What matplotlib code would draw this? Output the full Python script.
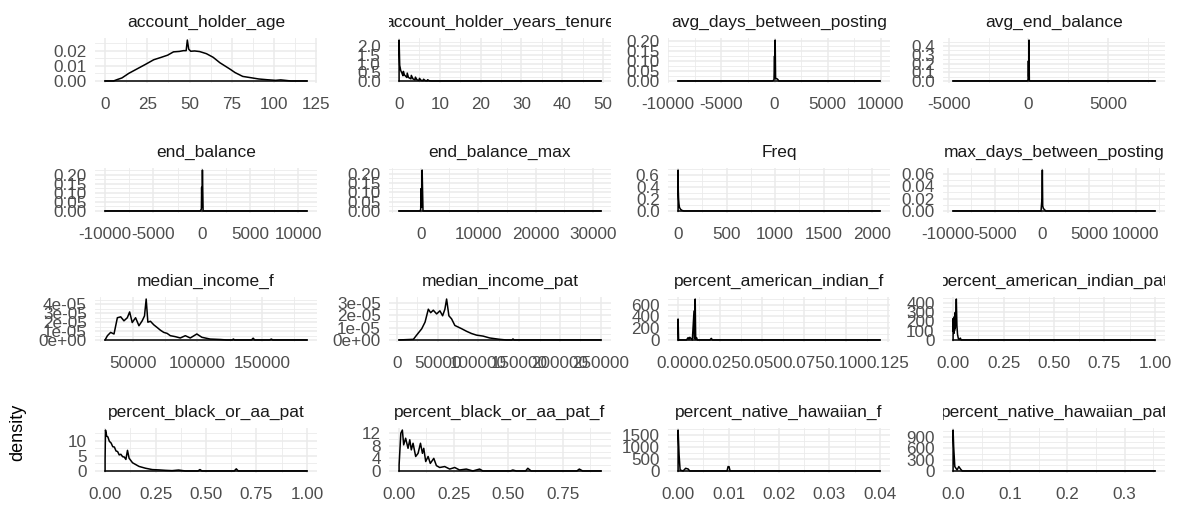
import numpy as np
import matplotlib
matplotlib.use("Agg")
import matplotlib.pyplot as plt
from matplotlib.transforms import Bbox, TransformedBbox

plt.rcParams['font.family'] = ['Liberation Sans', 'DejaVu Sans']

# --- data (density curves, one pair of lists per facet) ---
age_x = [0, 5, 7.4, 10, 14, 19, 24, 28.8, 33, 37, 40.5, 44, 46.4, 48, 48.7, 49.5, 50.7, 53, 56,
         60, 64, 68, 73.7, 77, 81.5, 86, 91, 96, 101, 104, 110, 119.5]
age_y = [0, 0, 0.001, 0.002, 0.005, 0.008, 0.011, 0.014, 0.0155, 0.017, 0.0192, 0.0195, 0.020,
         0.020, 0.027, 0.021, 0.0196, 0.0198, 0.0194, 0.0180, 0.0156, 0.012, 0.008, 0.0055, 0.003,
         0.0022, 0.0013, 0.0008, 0.0004, 0.0007, 0, 0]

tenure_x = [0, 0, 0.15, 0.4, 0.7, 0.95, 1.05, 1.3, 1.9, 2.0, 2.3, 2.9, 3.0, 3.4, 3.9, 4.0, 4.4,
            4.9, 5.0, 5.4, 5.9, 6.0, 6.4, 6.9, 7.0, 7.4, 8.0, 49.5]
tenure_y = [0, 2.35, 0.9, 0.6, 0.45, 0.3, 0.55, 0.35, 0.2, 0.45, 0.2, 0.12, 0.32, 0.12, 0.06,
            0.22, 0.06, 0.03, 0.15, 0.03, 0.02, 0.1, 0.02, 0.01, 0.07, 0.01, 0, 0]

avgdays_x = [-9060, -200, -50, 0, 30, 60, 100, 200, 300, 400, 9900]
avgdays_y = [0, 0, 0.005, 0.125, 0.02, 0.205, 0.01, 0.012, 0.008, 0, 0]

avgbal_x = [-4730, -100, -20, 0, 20, 40, 60, 100, 7950]
avgbal_y = [0, 0, 0.01, 0.23, 0.05, 0.47, 0.01, 0, 0]

endbal_x = [-10000, -150, -30, 0, 30, 80, 150, 10900]
endbal_y = [0, 0, 0.01, 0.13, 0.02, 0.225, 0, 0]

endbalmax_x = [-3760, -100, 0, 50, 150, 250, 400, 31350]
endbalmax_y = [0, 0, 0.01, 0.12, 0.02, 0.22, 0, 0]

freq_x = [1, 1, 3, 6, 10, 15, 25, 40, 60, 2080]
freq_y = [0, 0.68, 0.35, 0.2, 0.12, 0.06, 0.03, 0.01, 0, 0]

maxdays_x = [-9456, -100, 0, 40, 80, 150, 400, 12016]
maxdays_y = [0, 0, 0.02, 0.066, 0.008, 0.004, 0, 0]

incf_x = [28700, 30500, 33000, 35600, 38200, 40800, 43300, 45900, 47700, 49700, 52300, 54900,
          57400, 59200, 60500, 61800, 63800, 66400, 69000, 71500, 74100, 76700, 79200, 83100,
          86900, 90800, 94600, 99700, 103600, 110000, 118000, 122800, 127000, 128000, 129000,
          142000, 143300, 144500, 156000, 157400, 158500, 184900]
incf_y = [0, 0.48e-5, 0.85e-5, 0.67e-5, 2.5e-5, 2.6e-5, 2.15e-5, 2.5e-5, 3.15e-5, 1.96e-5,
          2.5e-5, 1.6e-5, 2.15e-5, 2.7e-5, 4.6e-5, 2.0e-5, 2.1e-5, 1.7e-5, 1.4e-5, 1.1e-5,
          0.85e-5, 0.74e-5, 0.48e-5, 0.37e-5, 0.22e-5, 0.48e-5, 0.22e-5, 0.67e-5, 0.3e-5,
          0.1e-5, 0.05e-5, 0, 0, 0.1e-5, 0, 0, 0.2e-5, 0, 0, 0.1e-5, 0, 0]

incpat_x = [2800, 20300, 24400, 30500, 34600, 38600, 41500, 44700, 48800, 52800, 56100, 58900,
            61000, 63800, 67100, 71100, 75200, 79300, 85400, 91500, 97600, 105700, 113800,
            126000, 134100, 141000, 142300, 143600, 250000]
incpat_y = [0, 0.05e-5, 0.4e-5, 0.9e-5, 1.44e-5, 2.48e-5, 2.2e-5, 2.4e-5, 2.1e-5, 2.35e-5,
            1.95e-5, 2.48e-5, 3.3e-5, 1.95e-5, 1.7e-5, 1.17e-5, 1.04e-5, 0.91e-5, 0.7e-5,
            0.52e-5, 0.39e-5, 0.31e-5, 0.16e-5, 0.05e-5, 0, 0, 0.08e-5, 0, 0]

amindf_x = [0, 0, 0.0003, 0.005, 0.006, 0.0065, 0.007, 0.0085, 0.0095, 0.0098, 0.0102, 0.0105,
            0.011, 0.0115, 0.012, 0.019, 0.0198, 0.0205, 0.1204]
amindf_y = [0, 355, 0, 0, 40, 10, 45, 0, 490, 20, 693, 10, 40, 0, 0, 0, 27, 0, 0]

amindpat_x = [0, 0, 0.002, 0.003, 0.004, 0.006, 0.007, 0.008, 0.010, 0.011, 0.012, 0.013, 0.016,
              0.019, 0.022, 0.026, 0.03, 0.036, 0.04, 1.0]
amindpat_y = [0, 230, 90, 160, 70, 250, 100, 120, 290, 130, 300, 200, 440, 150, 60, 15, 5, 20,
              0, 0]

blackpat_x = [0, 0, 0.002, 0.008, 0.014, 0.021, 0.03, 0.038, 0.046, 0.054, 0.062, 0.07, 0.078,
              0.087, 0.095, 0.103, 0.111, 0.119, 0.136, 0.168, 0.2, 0.234, 0.266, 0.299, 0.332,
              0.364, 0.397, 0.46, 0.47, 0.48, 0.64, 0.65, 0.66, 1.0]
blackpat_y = [0, 3.8, 13.5, 11.5, 11.2, 9.8, 9.2, 8.0, 7.9, 6.6, 6.4, 5.3, 5.5, 4.7, 4.6, 3.8,
              6.8, 4.2, 2.7, 1.5, 0.9, 0.45, 0.35, 0.2, 0.1, 0.3, 0, 0, 0.45, 0, 0, 0.7, 0, 0]

blackpatf_x = [0, 0, 0.008, 0.015, 0.021, 0.03, 0.041, 0.049, 0.056, 0.064, 0.076, 0.087, 0.098,
               0.107, 0.113, 0.122, 0.133, 0.143, 0.159, 0.171, 0.186, 0.209, 0.232, 0.255,
               0.277, 0.308, 0.338, 0.369, 0.384, 0.51, 0.521, 0.537, 0.58, 0.59, 0.605, 0.815,
               0.826, 0.841, 0.925]
blackpatf_y = [0, 1.9, 12, 13, 8.3, 10.4, 7.2, 9.9, 6.7, 8.8, 4.6, 5.6, 8.8, 5.6, 7.2, 3, 4.6,
               2.4, 4, 1.7, 1.1, 1.4, 0.6, 1.1, 0.3, 0.6, 0, 0.6, 0, 0, 0.3, 0, 0, 0.85, 0, 0,
               0.6, 0, 0]

hawf_x = [0, 0, 0.0002, 0.0004, 0.001, 0.0015, 0.002, 0.0023, 0.0097, 0.0099, 0.0101, 0.0103,
          0.04]
hawf_y = [0, 1700, 660, 40, 0, 110, 80, 0, 0, 180, 180, 0, 0]

hawpat_x = [0, 0, 0.001, 0.003, 0.007, 0.01, 0.013, 0.016, 0.353]
hawpat_y = [0, 1075, 640, 115, 25, 115, 50, 0, 0]

titles = ["account_holder_age", "account_holder_years_tenure", "avg_days_between_posting",
          "avg_end_balance", "end_balance", "end_balance_max", "Freq",
          "max_days_between_posting", "median_income_f", "median_income_pat",
          "percent_american_indian_f", "percent_american_indian_pat", "percent_black_or_aa_pat",
          "percent_black_or_aa_pat_f", "percent_native_hawaiian_f", "percent_native_hawaiian_pat"]

series = [(age_x, age_y), (tenure_x, tenure_y), (avgdays_x, avgdays_y), (avgbal_x, avgbal_y),
          (endbal_x, endbal_y), (endbalmax_x, endbalmax_y), (freq_x, freq_y),
          (maxdays_x, maxdays_y), (incf_x, incf_y), (incpat_x, incpat_y),
          (amindf_x, amindf_y), (amindpat_x, amindpat_y), (blackpat_x, blackpat_y),
          (blackpatf_x, blackpatf_y), (hawf_x, hawf_y), (hawpat_x, hawpat_y)]

# tick values and their labels
x_ticks = [[0, 25, 50, 75, 100, 125], [0, 10, 20, 30, 40, 50],
           [-10000, -5000, 0, 5000, 10000], [-5000, 0, 5000],
           [-10000, -5000, 0, 5000, 10000], [0, 10000, 20000, 30000],
           [0, 500, 1000, 1500, 2000], [-10000, -5000, 0, 5000, 10000],
           [50000, 100000, 150000], [0, 50000, 100000, 150000, 200000, 250000],
           [0, 0.025, 0.05, 0.075, 0.1, 0.125], [0, 0.25, 0.5, 0.75, 1.0],
           [0, 0.25, 0.5, 0.75, 1.0], [0, 0.25, 0.5, 0.75],
           [0, 0.01, 0.02, 0.03, 0.04], [0, 0.1, 0.2, 0.3]]
x_labels = [["0", "25", "50", "75", "100", "125"], ["0", "10", "20", "30", "40", "50"],
            ["-10000", "-5000", "0", "5000", "10000"], ["-5000", "0", "5000"],
            ["-10000", "-5000", "0", "5000", "10000"], ["0", "10000", "20000", "30000"],
            ["0", "500", "1000", "1500", "2000"], ["-10000", "-5000", "0", "5000", "10000"],
            ["50000", "100000", "150000"],
            ["0", "50000", "100000", "150000", "200000", "250000"],
            ["0.000", "0.025", "0.050", "0.075", "0.100", "0.125"],
            ["0.00", "0.25", "0.50", "0.75", "1.00"], ["0.00", "0.25", "0.50", "0.75", "1.00"],
            ["0.00", "0.25", "0.50", "0.75"], ["0.00", "0.01", "0.02", "0.03", "0.04"],
            ["0.0", "0.1", "0.2", "0.3"]]
y_ticks = [[0, 0.01, 0.02], [0, 0.5, 1.0, 1.5, 2.0], [0, 0.05, 0.1, 0.15, 0.2],
           [0, 0.1, 0.2, 0.3, 0.4], [0, 0.05, 0.1, 0.15, 0.2], [0, 0.05, 0.1, 0.15, 0.2],
           [0, 0.2, 0.4, 0.6], [0, 0.02, 0.04, 0.06], [0, 1e-5, 2e-5, 3e-5, 4e-5],
           [0, 1e-5, 2e-5, 3e-5], [0, 200, 400, 600], [0, 100, 200, 300, 400], [0, 5, 10],
           [0, 4, 8, 12], [0, 500, 1000, 1500], [0, 300, 600, 900]]
y_labels = [["0.00", "0.01", "0.02"], ["0.0", "0.5", "1.0", "1.5", "2.0"],
            ["0.00", "0.05", "0.10", "0.15", "0.20"], ["0.0", "0.1", "0.2", "0.3", "0.4"],
            ["0.00", "0.05", "0.10", "0.15", "0.20"], ["0.00", "0.05", "0.10", "0.15", "0.20"],
            ["0.0", "0.2", "0.4", "0.6"], ["0.00", "0.02", "0.04", "0.06"],
            ["0e+00", "1e-05", "2e-05", "3e-05", "4e-05"], ["0e+00", "1e-05", "2e-05", "3e-05"],
            ["0", "200", "400", "600"], ["0", "100", "200", "300", "400"], ["0", "5", "10"],
            ["0", "4", "8", "12"], ["0", "500", "1000", "1500"], ["0", "300", "600", "900"]]

# --- layout (pixels) ---
W, H = 1181, 508
col_left = [95, 389, 668, 943]
row_top = [38, 168, 297, 428]
pw, ph = 222, 45
GRID = '#EBEBEB'
tick_font = dict(fontfamily='Liberation Sans', fontsize=12.3)


def minors(ticks, lim):
    t = np.asarray(ticks, dtype=float)
    step = t[1] - t[0]
    m = np.concatenate([[t[0] - step / 2], (t[:-1] + t[1:]) / 2, [t[-1] + step / 2]])
    return m[(m >= lim[0]) & (m <= lim[1])]


fig = plt.figure(figsize=(W / 100, H / 100), dpi=100)

for i, name in enumerate(titles):
    r, c = divmod(i, 4)
    L, T = col_left[c], row_top[r]
    ax = fig.add_axes([L / W, 1 - (T + ph) / H, pw / W, ph / H])
    x, y = series[i]
    ax.plot([min(x), max(x)], [0, 0], color='black', lw=1.1, zorder=3)
    ax.plot(x, y, color='black', lw=1.1, zorder=3)
    ax.margins(0.05)
    xlim, ylim = ax.get_xlim(), ax.get_ylim()

    xt = [(v, s) for v, s in zip(x_ticks[i], x_labels[i]) if xlim[0] <= v <= xlim[1]]
    yt = [(v, s) for v, s in zip(y_ticks[i], y_labels[i]) if ylim[0] <= v <= ylim[1]]
    ax.set_xticks([v for v, _ in xt], [s for _, s in xt], color='#4D4D4D', **tick_font)
    ax.set_yticks([v for v, _ in yt], [s for _, s in yt], color='#4D4D4D', **tick_font)
    ax.set_xticks(minors([v for v, _ in xt], xlim), minor=True)
    ax.set_yticks(minors([v for v, _ in yt], ylim), minor=True)
    ax.set_xlim(xlim)
    ax.set_ylim(ylim)

    ax.grid(which='major', color=GRID, lw=1.1, zorder=0)
    ax.grid(which='minor', color=GRID, lw=0.6, zorder=0)
    ax.set_axisbelow(True)
    for s in ax.spines.values():
        s.set_visible(False)
    ax.tick_params(which='both', length=0)
    ax.tick_params(axis='x', pad=10)
    ax.tick_params(axis='y', pad=6)

    t = fig.text(0.5, 1 + 16 / ph, name, transform=ax.transAxes, ha='center', va='center',
                 fontsize=12.5, color='#1A1A1A')
    t.set_clip_box(TransformedBbox(Bbox([[0, 1], [1, 1 + 34 / ph]]), ax.transAxes))
    t.set_clip_on(True)

fig.text(18 / W, 1 - 432 / H, 'density', rotation=90, ha='center', va='center',
         fontsize=13, color='black')

fig.savefig('out.png', dpi=100, facecolor='white')
